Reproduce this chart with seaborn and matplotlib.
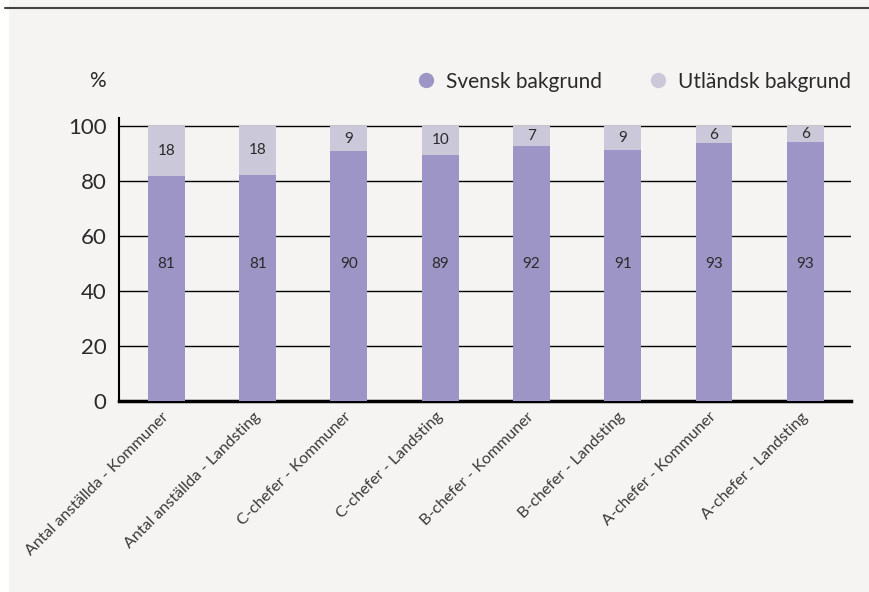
import matplotlib
matplotlib.use("Agg")
import matplotlib.pyplot as plt
import seaborn as sns
import pandas as pd
from matplotlib.lines import Line2D
from matplotlib.patches import Rectangle

# data
kategorier = ["Antal anställda - Kommuner", "Antal anställda - Landsting",
              "C-chefer - Kommuner", "C-chefer - Landsting",
              "B-chefer - Kommuner", "B-chefer - Landsting",
              "A-chefer - Kommuner", "A-chefer - Landsting"]
svensk = [81.8, 82.2, 90.9, 89.5, 92.7, 91.3, 93.8, 94.2]
utlandsk = [18.2, 17.8, 9.1, 10.5, 7.3, 8.7, 6.2, 5.8]
svensk_txt = [81, 81, 90, 89, 92, 91, 93, 93]
utlandsk_txt = [18, 18, 9, 10, 7, 9, 6, 6]

c_sv = "#9d95c5"
c_ut = "#cbc8d9"
bg = "#f5f4f2"
txt = "#2a2a2a"

df = pd.DataFrame({"kat": kategorier, "svensk": svensk, "utlandsk": utlandsk})
df["total"] = df["svensk"] + df["utlandsk"]

sns.set_style("white")
plt.rcParams["font.family"] = ["Lato", "DejaVu Sans"]

fig = plt.figure(figsize=(8.7, 5.92), dpi=100)
fig.patch.set_facecolor(bg)
fig.patches.append(Rectangle((0, 0), 9 / 870, 1, transform=fig.transFigure,
                             facecolor="white", edgecolor="none", zorder=0))
fig.add_artist(Line2D([5 / 870, 1], [1 - 8 / 592, 1 - 8 / 592],
                      transform=fig.transFigure, color="#444444", lw=1.5))

ax = fig.add_axes([0.1368, 0.3226, 0.8412, 0.4785])
ax.set_facecolor(bg)

for y in [20, 40, 60, 80, 100]:
    ax.axhline(y, color="black", lw=1, zorder=0)

sns.barplot(data=df, x="kat", y="total", color=c_ut, width=0.405,
            saturation=1, linewidth=0, ax=ax, zorder=2)
sns.barplot(data=df, x="kat", y="svensk", color=c_sv, width=0.405,
            saturation=1, linewidth=0, ax=ax, zorder=3)

for i in range(len(kategorier)):
    ax.text(i, 50, str(svensk_txt[i]), ha="center", va="center",
            fontsize=11, color=txt, zorder=4)
    ax.text(i, (svensk[i] + df["total"][i]) / 2, str(utlandsk_txt[i]),
            ha="center", va="center", fontsize=11, color=txt, zorder=4)

ax.set_xlim(-0.52, 7.5)
ax.set_ylim(0, 103)
ax.set_yticks([0, 20, 40, 60, 80, 100])
ax.set_xlabel("")
ax.set_ylabel("")
ax.tick_params(axis="y", length=0, pad=9, labelsize=16, colors=txt)
ax.tick_params(axis="x", length=0, pad=10, labelsize=11.5, colors="#3a3a3a")
plt.setp(ax.get_xticklabels(), rotation=45, ha="right", va="center",
         rotation_mode="anchor")

for s in ["top", "right"]:
    ax.spines[s].set_visible(False)
ax.spines["left"].set_color("black")
ax.spines["left"].set_linewidth(1.5)
ax.spines["bottom"].set_color("black")
ax.spines["bottom"].set_linewidth(2.5)

fig.text(97 / 870, 1 - 81 / 592, "%", ha="center", va="center",
         fontsize=15, color=txt)

handles = [Line2D([], [], marker="o", ls="", color=c_sv, markersize=10),
           Line2D([], [], marker="o", ls="", color=c_ut, markersize=10)]
leg = ax.legend(handles, ["Svensk bakgrund", "Utländsk bakgrund"], ncol=2,
                loc="center right", bbox_to_anchor=(1.0, 1 + 36 / 283),
                frameon=False, fontsize=15, handletextpad=0.45,
                columnspacing=2.2, borderaxespad=0, borderpad=0,
                handlelength=1)
for t in leg.get_texts():
    t.set_color(txt)

fig.savefig("out.png", dpi=100, facecolor=bg)
